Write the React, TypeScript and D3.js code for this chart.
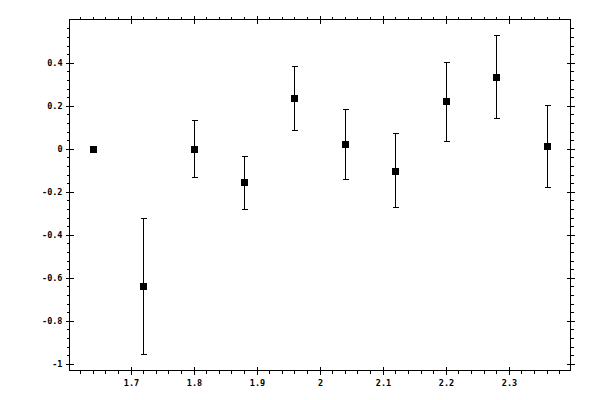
import * as d3 from "d3";

// measured points (x, value, error bar top, error bar bottom)
const xs = [1.64, 1.72, 1.8, 1.88, 1.96, 2.04, 2.12, 2.2, 2.28, 2.36];
const values = [0, -0.637, 0, -0.153, 0.237, 0.023, -0.102, 0.223, 0.335, 0.014];
const upper = [null, -0.321, 0.135, -0.033, 0.383, 0.186, 0.074, 0.405, 0.527, 0.205];
const lower = [null, -0.953, -0.13, -0.279, 0.088, -0.14, -0.273, 0.037, 0.144, -0.177];

const xMajor = [1.7, 1.8, 1.9, 2, 2.1, 2.2, 2.3];
const yMajor = [-1, -0.8, -0.6, -0.4, -0.2, 0, 0.2, 0.4];
const xLabels = ["1.7", "1.8", "1.9", "2", "2.1", "2.2", "2.3"];
const yLabels = ["-1", "-0.8", "-0.6", "-0.4", "-0.2", "0", "0.2", "0.4"];

const W = 600;
const H = 400;
const left = 69.5;
const right = 570.5;
const top = 19.5;
const bottom = 370.5;

export default function App() {
  const x = d3.scaleLinear().domain([1.603, 2.398]).range([left, right]);
  const y = d3.scaleLinear().domain([-1.031, 0.601]).range([bottom, top]);

  const [x0, x1] = x.domain();
  const [y0, y1] = y.domain();
  const xMinor = d3
    .range(80, 121)
    .filter((i) => i % 5 !== 0)
    .map((i) => i * 0.02)
    .filter((v) => v > x0 && v < x1);
  const yMinor = d3
    .range(-26, 16)
    .filter((i) => i % 5 !== 0)
    .map((i) => i * 0.04)
    .filter((v) => v > y0 && v < y1);

  const px = (v: number) => Math.round(x(v)) + 0.5;
  const py = (v: number) => Math.round(y(v)) + 0.5;

  const font = { fontFamily: "DejaVu Sans Mono", fontSize: 8.5, fontWeight: "bold" as const };

  return (
    <svg
      width={W}
      height={H}
      style={{ position: "absolute", left: 0, top: 0, background: "#fff" }}
    >
      <g stroke="#000" strokeWidth={1} fill="none" shapeRendering="crispEdges">
        <rect x={left} y={top} width={right - left} height={bottom - top} />
        {xMajor.map((v) => (
          <g key={"xm" + v}>
            <line x1={px(v)} x2={px(v)} y1={bottom - 4} y2={bottom + 4} />
            <line x1={px(v)} x2={px(v)} y1={top - 4} y2={top + 4} />
          </g>
        ))}
        {xMinor.map((v) => (
          <g key={"xn" + v}>
            <line x1={px(v)} x2={px(v)} y1={bottom} y2={bottom + 3} />
            <line x1={px(v)} x2={px(v)} y1={top - 3} y2={top} />
          </g>
        ))}
        {yMajor.map((v) => (
          <g key={"ym" + v}>
            <line x1={left - 4} x2={left + 4} y1={py(v)} y2={py(v)} />
            <line x1={right - 4} x2={right + 4} y1={py(v)} y2={py(v)} />
          </g>
        ))}
        {yMinor.map((v) => (
          <g key={"yn" + v}>
            <line x1={left - 3} x2={left} y1={py(v)} y2={py(v)} />
            <line x1={right} x2={right + 3} y1={py(v)} y2={py(v)} />
          </g>
        ))}
        {xs.map((v, i) =>
          upper[i] === null ? null : (
            <g key={"e" + i}>
              <line x1={px(v)} x2={px(v)} y1={py(upper[i] as number)} y2={py(lower[i] as number)} />
              <line x1={px(v) - 3} x2={px(v) + 3} y1={py(upper[i] as number)} y2={py(upper[i] as number)} />
              <line x1={px(v) - 3} x2={px(v) + 3} y1={py(lower[i] as number)} y2={py(lower[i] as number)} />
            </g>
          )
        )}
      </g>
      <g fill="#000" shapeRendering="crispEdges">
        {xs.map((v, i) => (
          <rect
            key={"p" + i}
            x={Math.round(x(v)) - 3}
            y={Math.round(y(values[i])) - 3}
            width={7}
            height={7}
          />
        ))}
      </g>
      <g fill="#000" style={font}>
        {yMajor.map((v, i) => (
          <text key={"yl" + v} x={left - 7} y={py(v)} dy="0.35em" textAnchor="end">
            {yLabels[i]}
          </text>
        ))}
        {xMajor.map((v, i) => (
          <text key={"xl" + v} x={px(v)} y={bottom + 15} textAnchor="middle">
            {xLabels[i]}
          </text>
        ))}
      </g>
    </svg>
  );
}
